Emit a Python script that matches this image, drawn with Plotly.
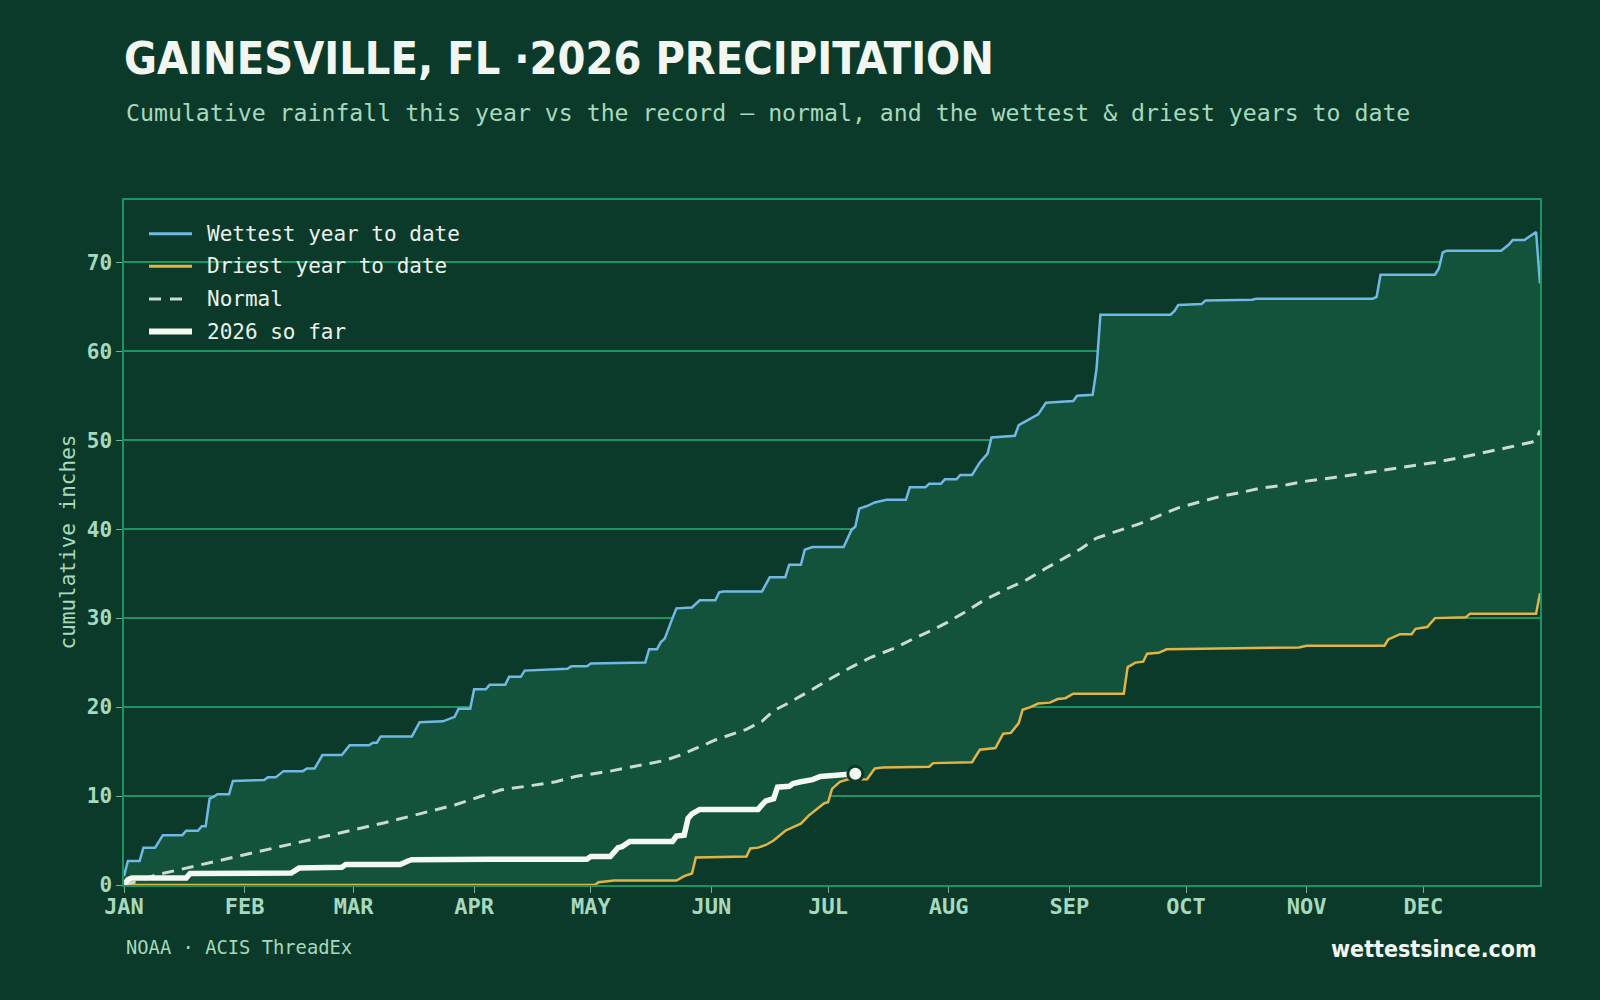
import pandas as pd
import plotly.graph_objects as go

YEAR = 2026
MONTHS = ["JAN", "FEB", "MAR", "APR", "MAY", "JUN", "JUL", "AUG", "SEP", "OCT", "NOV", "DEC"]

# day-of-year, cumulative inches
wet_day = [1, 2, 5, 6, 9, 11, 16, 17, 20, 21, 22, 23, 24, 25, 28, 29, 37, 38, 40, 42, 47, 48, 50, 52,
           57, 59, 64, 65, 66, 67, 75, 77, 83, 85, 86, 87, 90, 91, 94, 95, 99, 100, 103, 104, 115, 116,
           120, 121, 135, 136, 138, 139, 140, 142, 143, 147, 148, 149, 153, 154, 155, 165, 167, 171, 172,
           175, 176, 178, 186, 188, 189, 190, 192, 194, 197, 202, 203, 207, 208, 211, 212, 215, 216, 219,
           221, 223, 224, 230, 231, 233, 236, 238, 245, 246, 250, 251, 252, 270, 271, 272, 278, 279, 291,
           292, 322, 323, 324, 338, 339, 340, 341, 355, 357, 358, 361, 364, 365]
wet_in = [1.0, 2.7, 2.7, 4.2, 4.2, 5.6, 5.6, 6.1, 6.1, 6.6, 6.6, 9.7, 9.9, 10.2, 10.2, 11.7, 11.8, 12.1,
          12.1, 12.8, 12.8, 13.1, 13.1, 14.6, 14.6, 15.7, 15.7, 16.0, 16.0, 16.7, 16.7, 18.3, 18.4, 18.7,
          18.9, 19.8, 19.8, 22.0, 22.0, 22.5, 22.5, 23.4, 23.4, 24.1, 24.3, 24.6, 24.6, 24.9, 25.0, 26.5,
          26.5, 27.3, 27.7, 30.0, 31.1, 31.2, 31.6, 32.0, 32.0, 32.9, 33.0, 33.0, 34.6, 34.6, 36.0, 36.0,
          37.7, 38.0, 38.0, 39.9, 40.3, 42.3, 42.6, 43.0, 43.3, 43.3, 44.7, 44.7, 45.1, 45.1, 45.6, 45.6,
          46.1, 46.1, 47.5, 48.5, 50.3, 50.5, 51.7, 52.2, 52.9, 54.2, 54.4, 55.0, 55.1, 58.0, 64.1, 64.1,
          64.5, 65.2, 65.3, 65.7, 65.8, 65.9, 65.9, 66.1, 68.6, 68.6, 69.3, 71.1, 71.3, 71.3, 72.0, 72.5,
          72.5, 73.4, 67.6]

dry_day = [1, 122, 123, 127, 143, 145, 147, 148, 161, 162, 164, 166, 168, 169, 171, 173, 175, 177, 179,
           180, 181, 182, 183, 185, 187, 192, 194, 196, 208, 209, 219, 221, 225, 227, 229, 231, 232, 234,
           236, 239, 241, 243, 245, 258, 259, 261, 263, 264, 267, 269, 281, 303, 305, 325, 326, 327, 329,
           332, 333, 336, 338, 346, 347, 364, 365]
dry_in = [0.0, 0.0, 0.3, 0.5, 0.5, 1.0, 1.3, 3.1, 3.2, 4.1, 4.2, 4.5, 5.0, 5.4, 6.1, 6.5, 6.9, 7.8, 8.5,
          8.9, 9.2, 9.3, 10.8, 11.6, 11.85, 11.9, 13.1, 13.2, 13.3, 13.7, 13.8, 15.2, 15.4, 17.0, 17.1,
          18.2, 19.7, 20.0, 20.4, 20.5, 20.9, 21.0, 21.5, 21.5, 24.5, 25.0, 25.1, 26.0, 26.1, 26.5, 26.6,
          26.7, 26.9, 26.9, 27.6, 27.8, 28.2, 28.2, 28.8, 29.0, 30.0, 30.1, 30.5, 30.5, 32.8]

normal_day = [1, 5, 9, 15, 22, 30, 40, 49, 59, 68, 77, 86, 93, 98, 106, 112, 117, 126, 133, 140, 144,
              149, 153, 161, 165, 168, 172, 178, 183, 188, 193, 199, 204, 209, 213, 218, 222, 228, 233,
              238, 243, 247, 251, 256, 262, 267, 272, 277, 283, 288, 293, 300, 305, 312, 318, 325, 331,
              338, 344, 351, 357, 363, 364, 365]
normal_in = [0.0, 0.5, 1.1, 1.7, 2.4, 3.2, 4.2, 5.1, 6.1, 7.0, 8.0, 9.0, 10.0, 10.7, 11.2, 11.6, 12.2,
             12.8, 13.4, 14.0, 14.6, 15.5, 16.3, 17.5, 18.4, 19.6, 20.5, 22.0, 23.3, 24.5, 25.6, 26.6,
             27.7, 28.7, 29.6, 30.9, 32.0, 33.3, 34.3, 35.6, 36.8, 37.8, 39.0, 39.7, 40.6, 41.5, 42.4,
             43.0, 43.7, 44.1, 44.6, 45.0, 45.4, 45.8, 46.2, 46.6, 47.0, 47.5, 48.0, 48.6, 49.2, 49.8,
             50.0, 51.1]

cur_day = [1, 2, 3, 17, 18, 44, 46, 57, 58, 72, 74, 75, 95, 120, 121, 126, 128, 129, 131, 142, 143, 145,
           146, 147, 149, 164, 165, 166, 168, 169, 172, 173, 175, 178, 180, 186, 189]
cur_in = [0.0, 0.6, 0.8, 0.8, 1.3, 1.35, 1.9, 2.0, 2.3, 2.3, 2.7, 2.85, 2.9, 2.9, 3.2, 3.2, 4.2, 4.3, 4.9,
          4.9, 5.5, 5.6, 7.5, 8.0, 8.5, 8.5, 9.0, 9.45, 9.7, 11.0, 11.1, 11.4, 11.6, 11.85, 12.2, 12.3,
          12.5]

legend_labels = ["Wettest year to date", "Driest year to date", "Normal", "2026 so far"]

BG = "#0c3a2a"
FILL = "#13523b"
GRID = "#1c9461"
MINT = "#a6d9bd"
BLUE = "#72b8e6"
GOLD = "#e2b445"
NORMAL_C = "#c9dccd"
WHITE = "#f3f8f1"


def to_dates(days):
    return pd.Timestamp(f"{YEAR}-01-01") + pd.to_timedelta([d - 1 for d in days], unit="D")


fig = go.Figure()
fig.add_trace(go.Scatter(x=to_dates(dry_day), y=dry_in, mode="lines",
                         line=dict(color=GOLD, width=2.5), showlegend=False))
fig.add_trace(go.Scatter(x=to_dates(wet_day), y=wet_in, mode="lines", fill="tonexty", fillcolor=FILL,
                         line=dict(color=BLUE, width=2.5), showlegend=False))
fig.add_trace(go.Scatter(x=to_dates(normal_day), y=normal_in, mode="lines",
                         line=dict(color=NORMAL_C, width=3, dash="12px,8px"), showlegend=False))
fig.add_trace(go.Scatter(x=to_dates(cur_day), y=cur_in, mode="lines",
                         line=dict(color=WHITE, width=5.5), showlegend=False))
fig.add_trace(go.Scatter(x=to_dates(cur_day[-1:]), y=cur_in[-1:], mode="markers",
                         marker=dict(color=WHITE, size=15, line=dict(color=BG, width=3)),
                         showlegend=False))

# plot geometry (px)
L, R, T, B = 124, 60, 200, 115
W, H = 1600, 1000
PW, PH = W - L - R, H - T - B


def px(xp):
    return (xp - L) / PW


def py(yp):
    return (T + PH - yp) / PH


# custom legend
shapes = []
annotations = []
leg_y = [233.7, 266.3, 299.0, 331.6]
styles = [dict(color=BLUE, width=3), dict(color=GOLD, width=3), None, dict(color=WHITE, width=6)]
for i, (lab, st) in enumerate(zip(legend_labels, styles)):
    yy = py(leg_y[i])
    if st is None:
        for x0, x1 in [(149, 161), (170, 182)]:
            shapes.append(dict(type="line", xref="paper", yref="paper", x0=px(x0), x1=px(x1), y0=yy, y1=yy,
                               line=dict(color=NORMAL_C, width=3)))
    else:
        shapes.append(dict(type="line", xref="paper", yref="paper", x0=px(149), x1=px(192), y0=yy, y1=yy,
                           line=st))
    annotations.append(dict(text=lab, xref="paper", yref="paper", x=px(205), y=yy, xanchor="left",
                            yanchor="middle", showarrow=False,
                            font=dict(family="DejaVu Sans Mono", size=21, color="#e9f1eb")))

TITLE_FONT = "DejaVu Sans Condensed, DejaVu Sans, sans-serif"
annotations += [
    dict(text="<b>GAINESVILLE, FL ·2026 PRECIPITATION</b>", xref="paper", yref="paper", x=px(122), y=py(59),
         xanchor="left", yanchor="middle", showarrow=False,
         font=dict(family=TITLE_FONT, size=44.7, color="#f2f6f0")),
    dict(text="Cumulative rainfall this year vs the record — normal, and the wettest & driest years to date",
         xref="paper", yref="paper", x=px(124), y=py(113), xanchor="left", yanchor="middle", showarrow=False,
         font=dict(family="DejaVu Sans Mono", size=23.2, color=MINT)),
    dict(text="cumulative inches", xref="paper", yref="paper", x=px(67), y=0.5, textangle=-90,
         xanchor="center", yanchor="middle", showarrow=False,
         font=dict(family="DejaVu Sans Mono", size=21, color=MINT)),
    dict(text="NOAA · ACIS ThreadEx", xref="paper", yref="paper", x=px(124), y=py(948), xanchor="left",
         yanchor="middle", showarrow=False, font=dict(family="DejaVu Sans Mono", size=18.8, color=MINT)),
    dict(text="<b>wettestsince.com</b>", xref="paper", yref="paper", x=px(1539), y=py(949), xanchor="right",
         yanchor="middle", showarrow=False,
         font=dict(family=TITLE_FONT, size=23, color="#f2f6f0")),
]

tickvals = [pd.Timestamp(f"{YEAR}-{m:02d}-01") for m in range(1, 13)]

fig.update_layout(
    width=W, height=H, margin=dict(l=L, r=R, t=T, b=B),
    paper_bgcolor=BG, plot_bgcolor=BG,
    shapes=shapes, annotations=annotations, showlegend=False,
    xaxis=dict(range=[pd.Timestamp(f"{YEAR}-01-01"), pd.Timestamp(f"{YEAR}-12-31")],
               tickvals=tickvals, ticktext=MONTHS, showgrid=False, zeroline=False,
               showline=True, linecolor=GRID, linewidth=1.5, mirror=True,
               ticks="outside", ticklen=6, tickcolor="#86a898", tickwidth=1, ticklabelstandoff=-5,
               tickfont=dict(family="DejaVu Sans Mono", size=22, color=MINT, weight="bold")),
    yaxis=dict(range=[0, 77], tickvals=[0, 10, 20, 30, 40, 50, 60, 70], showgrid=True, gridcolor=GRID,
               gridwidth=1.5, zeroline=False, showline=True, linecolor=GRID, linewidth=1.5, mirror=True,
               ticks="outside", ticklen=6, tickcolor="#86a898", tickwidth=1,
               tickfont=dict(family="DejaVu Sans Mono", size=21, color=MINT, weight="bold")),
)

fig.write_html("out.html")
